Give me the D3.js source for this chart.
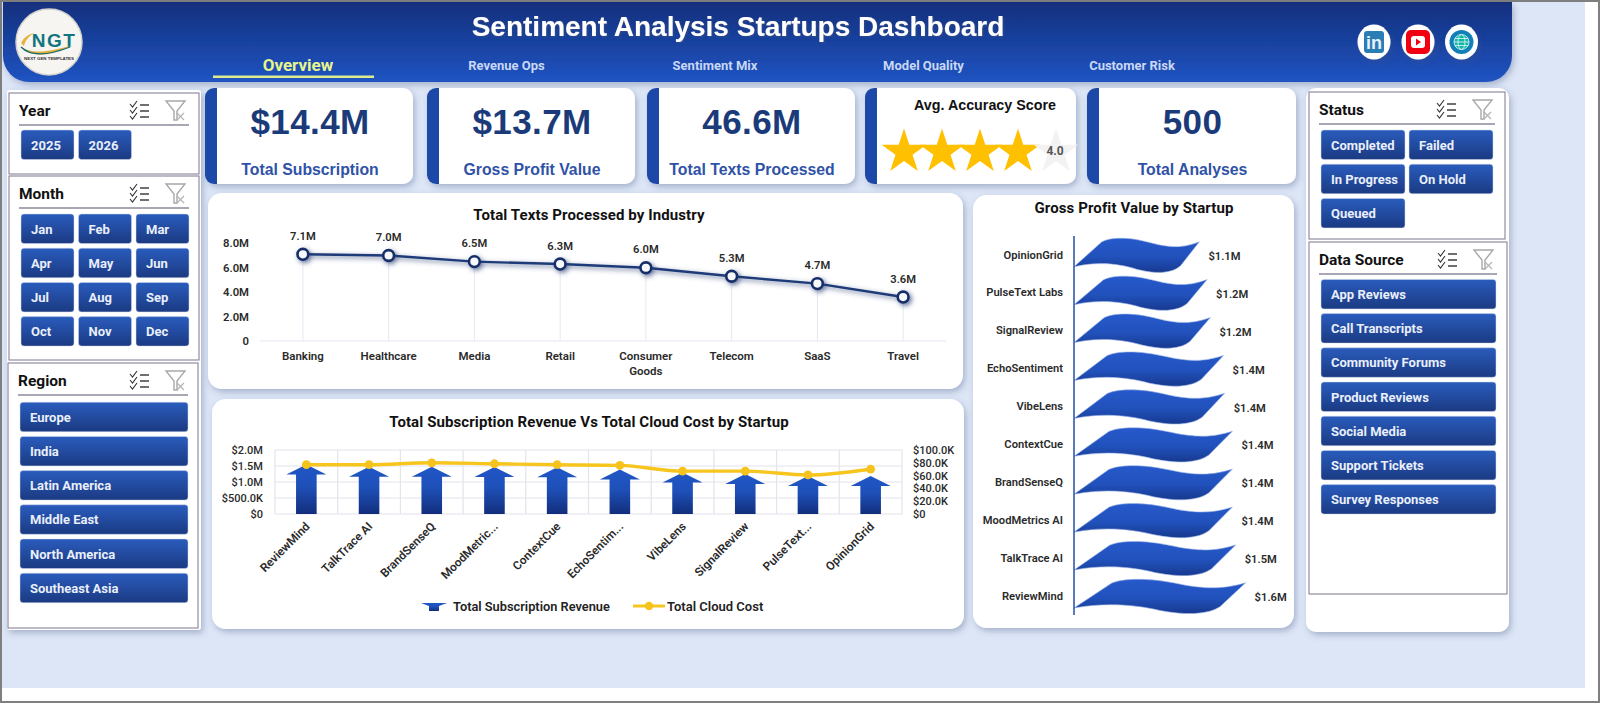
<!DOCTYPE html>
<html>
<head>
<meta charset="utf-8">
<title>Sentiment Analysis Startups Dashboard</title>
<script src="https://cdn.jsdelivr.net/npm/d3@7/dist/d3.min.js"></script>
<style>
  html, body { margin: 0; padding: 0; background: #fff; overflow: hidden; }
  svg { display: block; }
  text { font-family: Roboto, "Noto Sans", sans-serif; }
  .arial { font-family: "Liberation Sans", Arial, sans-serif; }
</style>
</head>
<body>
<div id="chart"></div>
<script>
// ---- data ----
const navItems = ["Overview", "Revenue Ops", "Sentiment Mix", "Model Quality", "Customer Risk"];

const kpiValues = ["$14.4M", "$13.7M", "46.6M", null, "500"];
const kpiLabels = ["Total Subscription", "Gross Profit Value", "Total Texts Processed", null, "Total Analyses"];
const accuracyScore = 4.0;

const years = ["2025", "2026"];
const months = ["Jan", "Feb", "Mar", "Apr", "May", "Jun", "Jul", "Aug", "Sep", "Oct", "Nov", "Dec"];
const regions = ["Europe", "India", "Latin America", "Middle East", "North America", "Southeast Asia"];
const statuses = ["Completed", "Failed", "In Progress", "On Hold", "Queued"];
const dataSources = ["App Reviews", "Call Transcripts", "Community Forums", "Product Reviews", "Social Media", "Support Tickets", "Survey Responses"];

const industries = ["Banking", "Healthcare", "Media", "Retail", "Consumer Goods", "Telecom", "SaaS", "Travel"];
const textsProcessed = [7.1, 7.0, 6.5, 6.3, 6.0, 5.3, 4.7, 3.6]; // millions
const textsTicks = [0, 2, 4, 6, 8];

const comboStartups = ["ReviewMind", "TalkTrace AI", "BrandSenseQ", "MoodMetric...", "ContextCue", "EchoSentim...", "VibeLens", "SignalReview", "PulseText...", "OpinionGrid"];
const subscriptionRevenue = [1.55, 1.48, 1.48, 1.47, 1.46, 1.39, 1.30, 1.25, 1.19, 1.19]; // millions
const cloudCost = [77, 77, 80, 78.5, 77, 76, 67, 67, 61, 70]; // thousands
const revenueTicks = [0, 0.5, 1, 1.5, 2];
const costTicks = [0, 20, 40, 60, 80, 100];

const profitStartups = ["OpinionGrid", "PulseText Labs", "SignalReview", "EchoSentiment", "VibeLens", "ContextCue", "BrandSenseQ", "MoodMetrics AI", "TalkTrace AI", "ReviewMind"];
const grossProfit = [1.14, 1.21, 1.24, 1.36, 1.37, 1.44, 1.44, 1.44, 1.47, 1.56]; // millions

// ---- page ----
const W = 1600, H = 703;
const svg = d3.select("#chart").append("svg").attr("width", W).attr("height", H);
const defs = svg.append("defs");

function vGradient(id, stops) {
    const g = defs.append("linearGradient").attr("id", id)
        .attr("x1", 0).attr("y1", 0).attr("x2", 0).attr("y2", 1);
    stops.forEach(s => g.append("stop").attr("offset", s[0]).attr("stop-color", s[1]));
}
vGradient("headerFill", [[0, "#122f7c"], [1, "#2054c2"]]);
vGradient("buttonFill", [[0, "#2a5cbd"], [1, "#1b3a82"]]);
vGradient("arrowFill", [[0, "#2056c6"], [0.45, "#1e50b8"], [1, "#122e7c"]]);
vGradient("waveFill", [[0, "#2659cb"], [0.55, "#2151bb"], [1, "#17398f"]]);

function shadow(id, dx, dy, blur, opacity) {
    defs.append("filter").attr("id", id)
        .attr("x", "-20%").attr("y", "-30%").attr("width", "140%").attr("height", "160%")
        .append("feDropShadow")
        .attr("dx", dx).attr("dy", dy).attr("stdDeviation", blur)
        .attr("flood-color", "#3a4f80").attr("flood-opacity", opacity);
}
shadow("cardShadow", 2, 3, 3, 0.35);
shadow("titleShadow", 1, 1, 1, 0.7);
shadow("lineShadow", 2, 2, 2.5, 0.8);

// background and window frame
svg.append("rect").attr("width", W).attr("height", H).attr("fill", "#fff");
svg.append("rect").attr("x", 2).attr("y", 2).attr("width", 1583).attr("height", 686).attr("fill", "#dde6f6");
svg.append("rect").attr("x", 1).attr("y", 1).attr("width", W - 2).attr("height", H - 2)
    .attr("fill", "none").attr("stroke", "#7f7f7f").attr("stroke-width", 2);

function card(x, y, w, h, r) {
    return svg.append("rect").attr("x", x).attr("y", y).attr("width", w).attr("height", h)
        .attr("rx", r).attr("fill", "#fff").attr("filter", "url(#cardShadow)");
}

// ---- header ----
svg.append("path")
    .attr("d", "M3,2 H1512 V56 A26,26 0 0 1 1486,82 H29 A26,26 0 0 1 3,56 Z")
    .attr("fill", "url(#headerFill)").attr("filter", "url(#cardShadow)");

svg.append("text").attr("class", "arial")
    .attr("x", 738).attr("y", 35.5).attr("text-anchor", "middle")
    .attr("font-size", 28).attr("font-weight", 700).attr("fill", "#fff")
    .attr("filter", "url(#titleShadow)")
    .text("Sentiment Analysis Startups Dashboard");

const navX = d3.scalePoint().domain(navItems).range([298, 1132]);
svg.selectAll(".nav").data(navItems).join("text")
    .attr("class", "nav")
    .attr("x", d => navX(d)).attr("y", (d, i) => i === 0 ? 71 : 70).attr("text-anchor", "middle")
    .attr("font-size", (d, i) => i === 0 ? 17 : 13)
    .attr("font-weight", 700)
    .attr("fill", (d, i) => i === 0 ? "#e6f58c" : "#c9d8f5")
    .text(d => d);
svg.append("rect").attr("x", 213).attr("y", 75.5).attr("width", 161).attr("height", 2.5).attr("fill", "#dcec8e");

// logo
svg.append("circle").attr("cx", 49).attr("cy", 42).attr("r", 33)
    .attr("fill", "#f6f5f2").attr("stroke", "#d4d2cc").attr("stroke-width", 1.5);
svg.append("text").attr("class", "arial").attr("x", 54).attr("y", 47).attr("text-anchor", "middle")
    .attr("font-size", 19).attr("font-weight", 700).attr("letter-spacing", 1.5).attr("fill", "#0f7680").text("NGT");
svg.append("path").attr("d", "M21,46 C30,55 50,52 72,45 C52,56 30,59 21,46 Z").attr("fill", "#e7b23c");
svg.append("path").attr("d", "M21,43 C24,37 29,34 34,33 C28,37 25,41 24,46 Z").attr("fill", "#e7b23c");
svg.append("path").attr("d", "M21,47 C32,58 52,54 70,47").attr("fill", "none").attr("stroke", "#0f6b78").attr("stroke-width", 1.3);
svg.append("text").attr("class", "arial").attr("x", 49).attr("y", 60).attr("text-anchor", "middle")
    .attr("font-size", 4.4).attr("font-weight", 700).attr("fill", "#333").text("NEXT GEN TEMPLATES");

// social buttons
const socialG = svg.append("g");
[1374, 1418, 1461.5].forEach(cx => {
    socialG.append("ellipse").attr("cx", cx).attr("cy", 42).attr("rx", 16.5).attr("ry", 17.5)
        .attr("fill", "#fff").attr("filter", "url(#cardShadow)");
});
socialG.append("rect").attr("x", 1364).attr("y", 31).attr("width", 20).attr("height", 22).attr("rx", 3).attr("fill", "#2b7db5");
socialG.append("text").attr("class", "arial").attr("x", 1374).attr("y", 49).attr("text-anchor", "middle")
    .attr("font-size", 18).attr("font-weight", 700).attr("fill", "#e8f2fa").text("in");
socialG.append("rect").attr("x", 1406).attr("y", 30).attr("width", 24).attr("height", 24).attr("rx", 5).attr("fill", "#f00010");
socialG.append("rect").attr("x", 1411).attr("y", 36).attr("width", 14).attr("height", 12).attr("rx", 3).attr("fill", "#fff");
socialG.append("path").attr("d", "M1416,38.5 L1421,42 L1416,45.5 Z").attr("fill", "#f00010");
socialG.append("circle").attr("cx", 1461.5).attr("cy", 42).attr("r", 12).attr("fill", "#1180b8");
socialG.append("circle").attr("cx", 1461.5).attr("cy", 42).attr("r", 7.5).attr("fill", "#12b5a6").attr("stroke", "#e8fafa").attr("stroke-width", 0.8);
socialG.append("ellipse").attr("cx", 1461.5).attr("cy", 42).attr("rx", 3.5).attr("ry", 7.5).attr("fill", "none").attr("stroke", "#e8fafa").attr("stroke-width", 0.8);
socialG.append("path").attr("d", "M1454,42 H1469 M1455,38.5 H1468 M1455,45.5 H1468").attr("stroke", "#e8fafa").attr("stroke-width", 0.8);

// ---- KPI cards ----
const kpiLefts = [205, 427, 647, 865, 1087];
const kpiWidths = [208, 208, 208, 211, 209];
const kpiY = 88, kpiH = 96;
kpiLefts.forEach((x, i) => {
    const w = kpiWidths[i];
    card(x, kpiY, w, kpiH, 10);
    svg.append("path")
        .attr("d", `M${x + 12},${kpiY} H${x + 9} A9,9 0 0 0 ${x},${kpiY + 9} V${kpiY + kpiH - 9} A9,9 0 0 0 ${x + 9},${kpiY + kpiH} H${x + 12} Z`)
        .attr("fill", "#1c48a8");
    if (kpiValues[i] === null) return;
    const cx = x + w / 2 + 1;
    svg.append("text").attr("class", "arial")
        .attr("x", cx).attr("y", 134).attr("text-anchor", "middle")
        .attr("font-size", 35).attr("font-weight", 700).attr("letter-spacing", 0.4).attr("fill", "#1b3a7a")
        .text(kpiValues[i]);
    svg.append("text").attr("class", "arial")
        .attr("x", cx).attr("y", 175).attr("text-anchor", "middle")
        .attr("font-size", 15.8).attr("font-weight", 700).attr("fill", "#2f52a6")
        .text(kpiLabels[i]);
});

// accuracy card: five stars, filled up to the score
svg.append("text").attr("class", "arial")
    .attr("x", 985).attr("y", 110).attr("text-anchor", "middle")
    .attr("font-size", 14.3).attr("font-weight", 700).attr("fill", "#111")
    .text("Avg. Accuracy Score");
const starX = d3.scaleBand().domain(d3.range(5)).range([885, 1075]);
const starPath = d3.symbol().type(d3.symbolStar).size(620);
svg.selectAll(".star").data(d3.range(5)).join("path")
    .attr("class", "star")
    .attr("d", starPath)
    .attr("transform", d => `translate(${starX(d) + starX.bandwidth() / 2},152)`)
    .attr("fill", d => d < accuracyScore ? "#ffc000" : "#f2f2f2");
svg.append("text")
    .attr("x", 1055).attr("y", 155).attr("text-anchor", "middle")
    .attr("font-size", 12).attr("font-weight", 700).attr("fill", "#555")
    .text(accuracyScore.toFixed(1));

// ---- slicers ----
function slicerIcons(x, y) {
    const g = svg.append("g").attr("transform", `translate(${x},${y})`);
    [0, 6, 12].forEach(dy => {
        g.append("path").attr("d", `M0,${dy + 2} L2.5,${dy + 5} L7,${dy - 1}`)
            .attr("fill", "none").attr("stroke", "#333").attr("stroke-width", 1.1);
        g.append("path").attr("d", `M10,${dy + 3} H19`).attr("stroke", "#333").attr("stroke-width", 1.4);
    });
    g.append("path").attr("d", "M36,-1 H55 L47,9 V18 H44 V9 Z")
        .attr("fill", "#fff").attr("stroke", "#a8a8a8").attr("stroke-width", 1.4);
    g.append("path").attr("d", "M47,11 L54,18 M54,11 L47,18").attr("stroke", "#b4b4b4").attr("stroke-width", 1.2);
}

function slicer(o) {
    svg.append("rect").attr("x", o.x).attr("y", o.y).attr("width", o.w).attr("height", o.h)
        .attr("fill", "#fff").attr("stroke", "#7d778f").attr("stroke-width", 1);
    svg.append("text").attr("x", o.x + 10).attr("y", o.y + 22.6)
        .attr("font-size", 15.5).attr("font-weight", 700).attr("fill", "#111").text(o.title);
    svg.append("line").attr("x1", o.x + 10).attr("x2", o.x + o.w - 10)
        .attr("y1", o.y + 32).attr("y2", o.y + 32)
        .attr("stroke", "#8d8a9a").attr("stroke-width", 1.3);
    slicerIcons(o.x + o.iconX, o.y + 9);

    const colW = (o.btnW + o.gap);
    const g = svg.append("g").selectAll("g").data(o.items).join("g")
        .attr("transform", (d, i) => `translate(${o.btnX + (i % o.cols) * colW},${o.y + o.btnY + Math.floor(i / o.cols) * 34.2})`);
    g.append("rect").attr("width", o.btnW).attr("height", 29.5).attr("rx", 3)
        .attr("fill", "url(#buttonFill)").attr("stroke", "#cfd8ea").attr("stroke-width", 0.5);
    g.append("text").attr("x", 10).attr("y", 19.5)
        .attr("font-size", 13).attr("font-weight", 700).attr("fill", "#e9effb").text(d => d);
}

card(7, 90, 194, 540, 3);
slicer({ x: 9, y: 93, w: 190, h: 81, title: "Year", items: years, cols: 3, btnX: 21, btnY: 37, btnW: 53, gap: 4.5, iconX: 121 });
slicer({ x: 9, y: 176, w: 190, h: 184, title: "Month", items: months, cols: 3, btnX: 21, btnY: 38, btnW: 53, gap: 4.5, iconX: 121 });
slicer({ x: 8, y: 363, w: 190, h: 265, title: "Region", items: regions, cols: 1, btnX: 20, btnY: 39.2, btnW: 168, gap: 0, iconX: 122 });

card(1306, 88, 203, 544, 10);
slicer({ x: 1309, y: 92, w: 196, h: 147, title: "Status", items: statuses, cols: 2, btnX: 1321, btnY: 38, btnW: 84, gap: 4, iconX: 128 });
slicer({ x: 1309, y: 242, w: 198, h: 352, title: "Data Source", items: dataSources, cols: 1, btnX: 1321, btnY: 37.4, btnW: 175, gap: 0, iconX: 129 });

// ---- chart cards ----
function chartTitle(text, x, y) {
    svg.append("text").attr("x", x).attr("y", y).attr("text-anchor", "middle")
        .attr("font-size", 15).attr("font-weight", 700).attr("letter-spacing", 0.1).attr("fill", "#111")
        .text(text);
}

function styleTicks(g, size, color, weight) {
    g.select(".domain").remove();
    g.selectAll(".tick line").remove();
    g.selectAll(".tick text")
        .attr("font-family", "Roboto, sans-serif")
        .attr("font-size", size).attr("font-weight", weight).attr("fill", color);
}

// Total Texts Processed by Industry
card(208, 193, 755, 196, 14);
chartTitle("Total Texts Processed by Industry", 589, 219.5);

const xInd = d3.scaleBand().domain(industries).range([260, 946]);
const yTexts = d3.scaleLinear().domain([0, 8]).range([341, 243.3]);
const indData = industries.map((d, i) => ({ name: d, value: textsProcessed[i] }));
const xCenter = d => xInd(d) + xInd.bandwidth() / 2;

svg.append("g").selectAll("line").data(indData).join("line")
    .attr("x1", d => xCenter(d.name)).attr("x2", d => xCenter(d.name))
    .attr("y1", d => yTexts(d.value)).attr("y2", yTexts(0))
    .attr("stroke", "#e4e8f1").attr("stroke-width", 1);
svg.append("line").attr("x1", 260).attr("x2", 946).attr("y1", yTexts(0)).attr("y2", yTexts(0))
    .attr("stroke", "#e4e8f1").attr("stroke-width", 1.2);

svg.append("g").attr("transform", "translate(258,0)")
    .call(d3.axisLeft(yTexts).tickValues(textsTicks).tickSize(0).tickPadding(9)
        .tickFormat(d => d === 0 ? "0" : d.toFixed(1) + "M"))
    .call(g => styleTicks(g, 11.3, "#2a2a2a", 600));

svg.append("g").attr("transform", "translate(0,341)")
    .call(d3.axisBottom(xInd).tickSize(0).tickPadding(11))
    .call(g => styleTicks(g, 11.5, "#2a2a2a", 600))
    .selectAll(".tick text")
    .each(function (d) {
        const words = d.split(" ");
        if (words.length < 2) return;
        const t = d3.select(this).text(null);
        words.forEach((w, i) => t.append("tspan").attr("x", 0).attr("dy", i ? 14.5 : "0.71em").text(w));
    });

const textsGroup = svg.append("g").attr("filter", "url(#lineShadow)");
textsGroup.append("path").datum(indData)
    .attr("fill", "none").attr("stroke", "#1c3a78").attr("stroke-width", 2.4)
    .attr("d", d3.line().x(d => xCenter(d.name)).y(d => yTexts(d.value)));
textsGroup.selectAll("circle").data(indData).join("circle")
    .attr("cx", d => xCenter(d.name)).attr("cy", d => yTexts(d.value)).attr("r", 5.4)
    .attr("fill", "#f6f8fc").attr("stroke", "#152f68").attr("stroke-width", 2.6);
svg.append("g").selectAll("text").data(indData).join("text")
    .attr("x", d => xCenter(d.name)).attr("y", d => yTexts(d.value) - 14.5)
    .attr("text-anchor", "middle").attr("font-size", 11.2).attr("font-weight", 600).attr("fill", "#2a2a2a")
    .text(d => d.value.toFixed(1) + "M");

// Total Subscription Revenue Vs Total Cloud Cost by Startup
card(212, 399, 752, 230, 14);
chartTitle("Total Subscription Revenue Vs Total Cloud Cost by Startup", 589, 427);

const xCombo = d3.scaleBand().domain(comboStartups).range([275, 902]);
const yRev = d3.scaleLinear().domain([0, 2]).range([514, 450]);
const yCost = d3.scaleLinear().domain([0, 100]).range([514, 450]);
const comboCenter = d => xCombo(d) + xCombo.bandwidth() / 2;
const comboData = comboStartups.map((d, i) => ({ name: d, revenue: subscriptionRevenue[i], cost: cloudCost[i] }));

const gridG = svg.append("g").attr("stroke", "#e3e4ec").attr("stroke-width", 1.2);
gridG.selectAll(".h").data(revenueTicks).join("line").attr("class", "h")
    .attr("x1", 275).attr("x2", 902).attr("y1", d => yRev(d)).attr("y2", d => yRev(d));
gridG.selectAll(".v").data(comboStartups.concat("end")).join("line").attr("class", "v")
    .attr("x1", (d, i) => 275 + i * xCombo.bandwidth()).attr("x2", (d, i) => 275 + i * xCombo.bandwidth())
    .attr("y1", 450).attr("y2", 514);

const moneyM = d => d === 0 ? "$0" : d < 1 ? "$" + (d * 1000).toFixed(1) + "K" : "$" + d.toFixed(1) + "M";
const moneyK = d => d === 0 ? "$0" : "$" + d.toFixed(1) + "K";

svg.append("g").attr("transform", "translate(272,0)")
    .call(d3.axisLeft(yRev).tickValues(revenueTicks).tickSize(0).tickPadding(9).tickFormat(moneyM))
    .call(g => styleTicks(g, 11, "#2a2a2a", 500));
svg.append("g").attr("transform", "translate(905,0)")
    .call(d3.axisRight(yCost).tickValues(costTicks).tickSize(0).tickPadding(8).tickFormat(moneyK))
    .call(g => styleTicks(g, 11, "#2a2a2a", 500));

svg.append("g").attr("transform", "translate(0,514)")
    .call(d3.axisBottom(xCombo).tickSize(0).tickPadding(9))
    .call(g => styleTicks(g, 11.8, "#2a2a2a", 600))
    .selectAll(".tick text")
    .attr("text-anchor", "end").attr("dx", "0.3em").attr("dy", "0.4em")
    .attr("transform", "translate(-8,6) rotate(-45)");

const arrowPath = (cx, top, base, half, shaft, head) =>
    `M${cx},${top} L${cx + half},${top + head} H${cx + shaft} V${base} H${cx - shaft} V${top + head} H${cx - half} Z`;

svg.append("g").selectAll("path").data(comboData).join("path")
    .attr("d", d => arrowPath(comboCenter(d.name), yRev(d.revenue), yRev(0), 20, 10.3, 10))
    .attr("fill", "url(#arrowFill)");

svg.append("path").datum(comboData)
    .attr("fill", "none").attr("stroke", "#f6c51e").attr("stroke-width", 3.4)
    .attr("d", d3.line().x(d => comboCenter(d.name)).y(d => yCost(d.cost)).curve(d3.curveMonotoneX));
svg.append("g").selectAll("circle").data(comboData).join("circle")
    .attr("cx", d => comboCenter(d.name)).attr("cy", d => yCost(d.cost)).attr("r", 4.4)
    .attr("fill", "#f6c31c");

// legend
const legendY = 606;
svg.append("path").attr("d", "M421,603 H447 L439,606 V611 H429 V606 Z").attr("fill", "url(#arrowFill)");
svg.append("text").attr("x", 453).attr("y", legendY + 5).attr("font-size", 12.8).attr("font-weight", 600)
    .attr("fill", "#222").text("Total Subscription Revenue");
svg.append("line").attr("x1", 633).attr("x2", 665).attr("y1", legendY).attr("y2", legendY)
    .attr("stroke", "#f6c51e").attr("stroke-width", 3);
svg.append("circle").attr("cx", 649).attr("cy", legendY).attr("r", 4.2).attr("fill", "#f6c31c");
svg.append("text").attr("x", 667).attr("y", legendY + 5).attr("font-size", 13).attr("font-weight", 600)
    .attr("fill", "#222").text("Total Cloud Cost");

// Gross Profit Value by Startup
card(973, 195, 321, 433, 14);
chartTitle("Gross Profit Value by Startup", 1134, 213);

const yStartup = d3.scaleBand().domain(profitStartups).range([236, 615]);
const xProfit = d3.scaleLinear().domain([0, 1]).range([1074, 1184]);
const profitData = profitStartups.map((d, i) => ({ name: d, value: grossProfit[i] }));

// flag shaped bar stretched to the bar's length and band height
function wavePath(d) {
    const x0 = xProfit(0), w = xProfit(d.value) - x0;
    const t = yStartup(d.name) + 1, h = yStartup.bandwidth() - 2;
    const p = (u, v) => `${(x0 + u * w).toFixed(1)},${(t + v * h).toFixed(1)}`;
    return `M${p(0, .83)} L${p(.22, .14)} C${p(.28, .02)} ${p(.42, -.03)} ${p(.62, .17)} C${p(.8, .34)} ${p(.9, .27)} ${p(1, .13)}`
        + ` L${p(.85, .8)} C${p(.78, 1.02)} ${p(.65, 1.04)} ${p(.5, .9)} C${p(.38, .76)} ${p(.2, .66)} ${p(0, .83)} Z`;
}
svg.append("g").selectAll("path").data(profitData).join("path")
    .attr("d", wavePath)
    .attr("fill", "url(#waveFill)").attr("stroke", "#9db6e6").attr("stroke-width", 0.6);

svg.append("line").attr("x1", xProfit(0)).attr("x2", xProfit(0)).attr("y1", 236).attr("y2", 615)
    .attr("stroke", "#3059ad").attr("stroke-width", 1.6);

svg.append("g").attr("transform", `translate(${xProfit(0)},0)`)
    .call(d3.axisLeft(yStartup).tickSize(0).tickPadding(11))
    .call(g => styleTicks(g, 11.2, "#2a2a2a", 600));

svg.append("g").selectAll("text").data(profitData).join("text")
    .attr("x", d => xProfit(d.value) + 9).attr("y", d => yStartup(d.name) + yStartup.bandwidth() / 2 + 5)
    .attr("font-size", 11.2).attr("font-weight", 600).attr("fill", "#2a2a2a")
    .text(d => "$" + d.value.toFixed(1) + "M");
</script>
</body>
</html>
